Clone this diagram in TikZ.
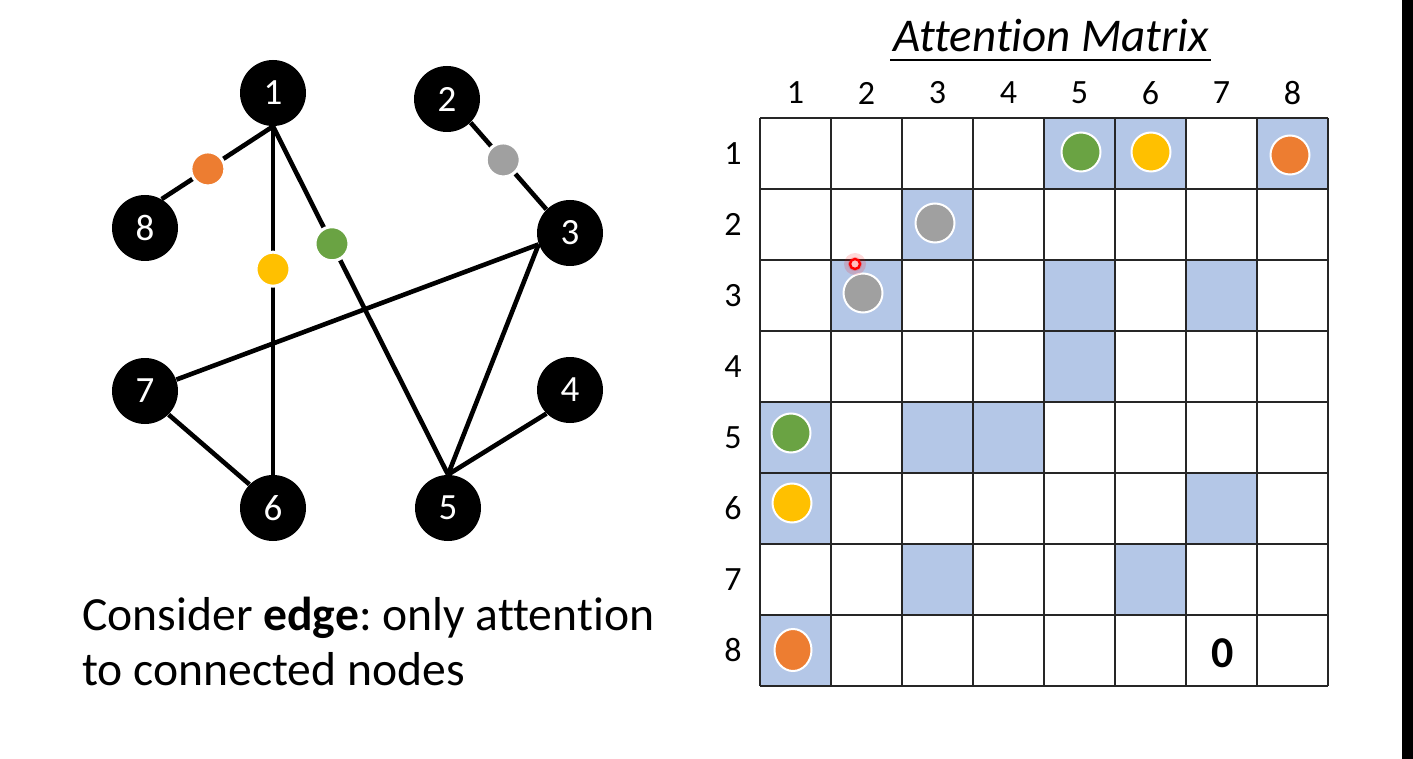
\documentclass[tikz,border=0pt]{standalone}
\usepackage{fontspec}
\setmainfont{Carlito}[Ligatures=NoCommon]
\usetikzlibrary{shapes.geometric}
\definecolor{cOrange}{HTML}{ED7D31}
\definecolor{cYellow}{HTML}{FFC000}
\definecolor{cGreen}{HTML}{6AA343}
\definecolor{cGray}{HTML}{A0A0A0}
\definecolor{cBlue}{HTML}{B4C7E7}
\frenchspacing
\begin{document}
\begin{tikzpicture}[x=0.5pt,y=-0.5pt,
  gnode/.style={circle,fill=black,minimum size=33pt,inner sep=0pt,text=white,font=\fontsize{18.5}{18.5}\selectfont},
  edgeline/.style={line width=2.3pt,black},
  gdot/.style={circle,minimum size=17pt,inner sep=0pt,draw=white,line width=1.5pt},
  mdot/.style={circle,minimum size=19.5pt,inner sep=0pt,draw=white,line width=1pt},
  lbl/.style={font=\fontsize{17}{17}\selectfont,inner sep=0pt},
  gridline/.style={line width=1pt,black!85}]
\fill[white] (0,0) rectangle (1413,759);
\useasboundingbox (0,0) rectangle (1413,759);
\fill[black] (1402,0) rectangle (1413,759);

% ---------------- graph ----------------
\node[gnode] (n1) at (273,93) {1};
\node[gnode] (n2) at (447,99) {2};
\node[gnode] (n3) at (570,233) {3};
\node[gnode] (n4) at (570,390) {4};
\node[gnode] (n5) at (448,508) {5};
\node[gnode] (n6) at (273,508) {6};
\node[gnode] (n7) at (145,391) {7};
\node[gnode] (n8) at (145,228) {8};

\draw[edgeline] (n1.south) -- node[gdot,fill=cOrange,pos=0.585] (d18) {} (n8.60);
\draw[edgeline] (n1.south) -- node[gdot,fill=cYellow,pos=0.41] (d16) {} (n6.north);
\draw[edgeline] (n1.south) -- node[gdot,fill=cGreen,pos=0.337] (d15) {} (n5.north);
\draw[edgeline] (n2.south east) -- node[gdot,fill=cGray,pos=0.43] (d23) {} (n3.north west);
\draw[edgeline] (n3.200) -- (n7.20);
\draw[edgeline] (n3.200) -- (n5.north);
\draw[edgeline] (n7.south east) -- (n6.north west);
\draw[edgeline] (n4.south west) -- (n5.north);

\node[anchor=base west,align=left,inner sep=0pt,font=\fontsize{23.8}{27.5}\selectfont] (caption) at (82,685)
  {Consider \textbf{edge}: only attention\\to connected nodes};

% ---------------- matrix ----------------
\node[inner sep=0pt,font=\fontsize{23.5}{23.5}\selectfont\itshape] (title) at (1051,36) {Attention Matrix};
\draw[line width=1pt] (890,60) -- (1211,60);

\foreach \r/\c in {1/5,1/6,1/8,2/3,3/2,3/5,3/7,4/5,5/1,5/3,5/4,6/1,6/7,7/3,7/6,8/1}
  \fill[cBlue] ({760+71*(\c-1)},{118+71*(\r-1)}) rectangle ++(71,71);

\foreach \i in {0,...,8} {
  \draw[gridline] ({760+71*\i},118) -- ({760+71*\i},686);
  \draw[gridline] (760,{118+71*\i}) -- (1328,{118+71*\i});
}

\foreach \k in {1,...,8} {
  \node[lbl] (col\k) at ({795.5+71*(\k-1)},93) {\k};
  \node[lbl] (row\k) at (733,{153.5+71*(\k-1)}) {\k};
}

\node[mdot,fill=cGreen]  (m15) at (1081,152) {};
\node[mdot,fill=cYellow] (m16) at (1151,152) {};
\node[mdot,fill=cOrange] (m18) at (1290,155) {};
\node[mdot,fill=cGray]   (m23) at (935,223) {};
\node[mdot,fill=cGray]   (m32) at (863,293) {};
\node[mdot,fill=cGreen]  (m51) at (791,433) {};
\node[mdot,fill=cYellow] (m61) at (792,503) {};
\node[ellipse,draw=white,line width=1pt,inner sep=0pt,fill=cOrange,minimum height=21pt,minimum width=18.5pt] (m81) at (793,650) {};

\node[inner sep=0pt,font=\fontsize{22}{22}\selectfont\bfseries] (zero) at (1223,653) {0};

% laser pointer
\fill[red,opacity=0.15] (855,264) circle (11);
\fill[red,opacity=0.2] (855,264) circle (7);
\node[circle,draw=red,fill=red!25!white,line width=1.2pt,minimum size=5pt,inner sep=0pt] (laser) at (855,264) {};
\end{tikzpicture}
\end{document}
